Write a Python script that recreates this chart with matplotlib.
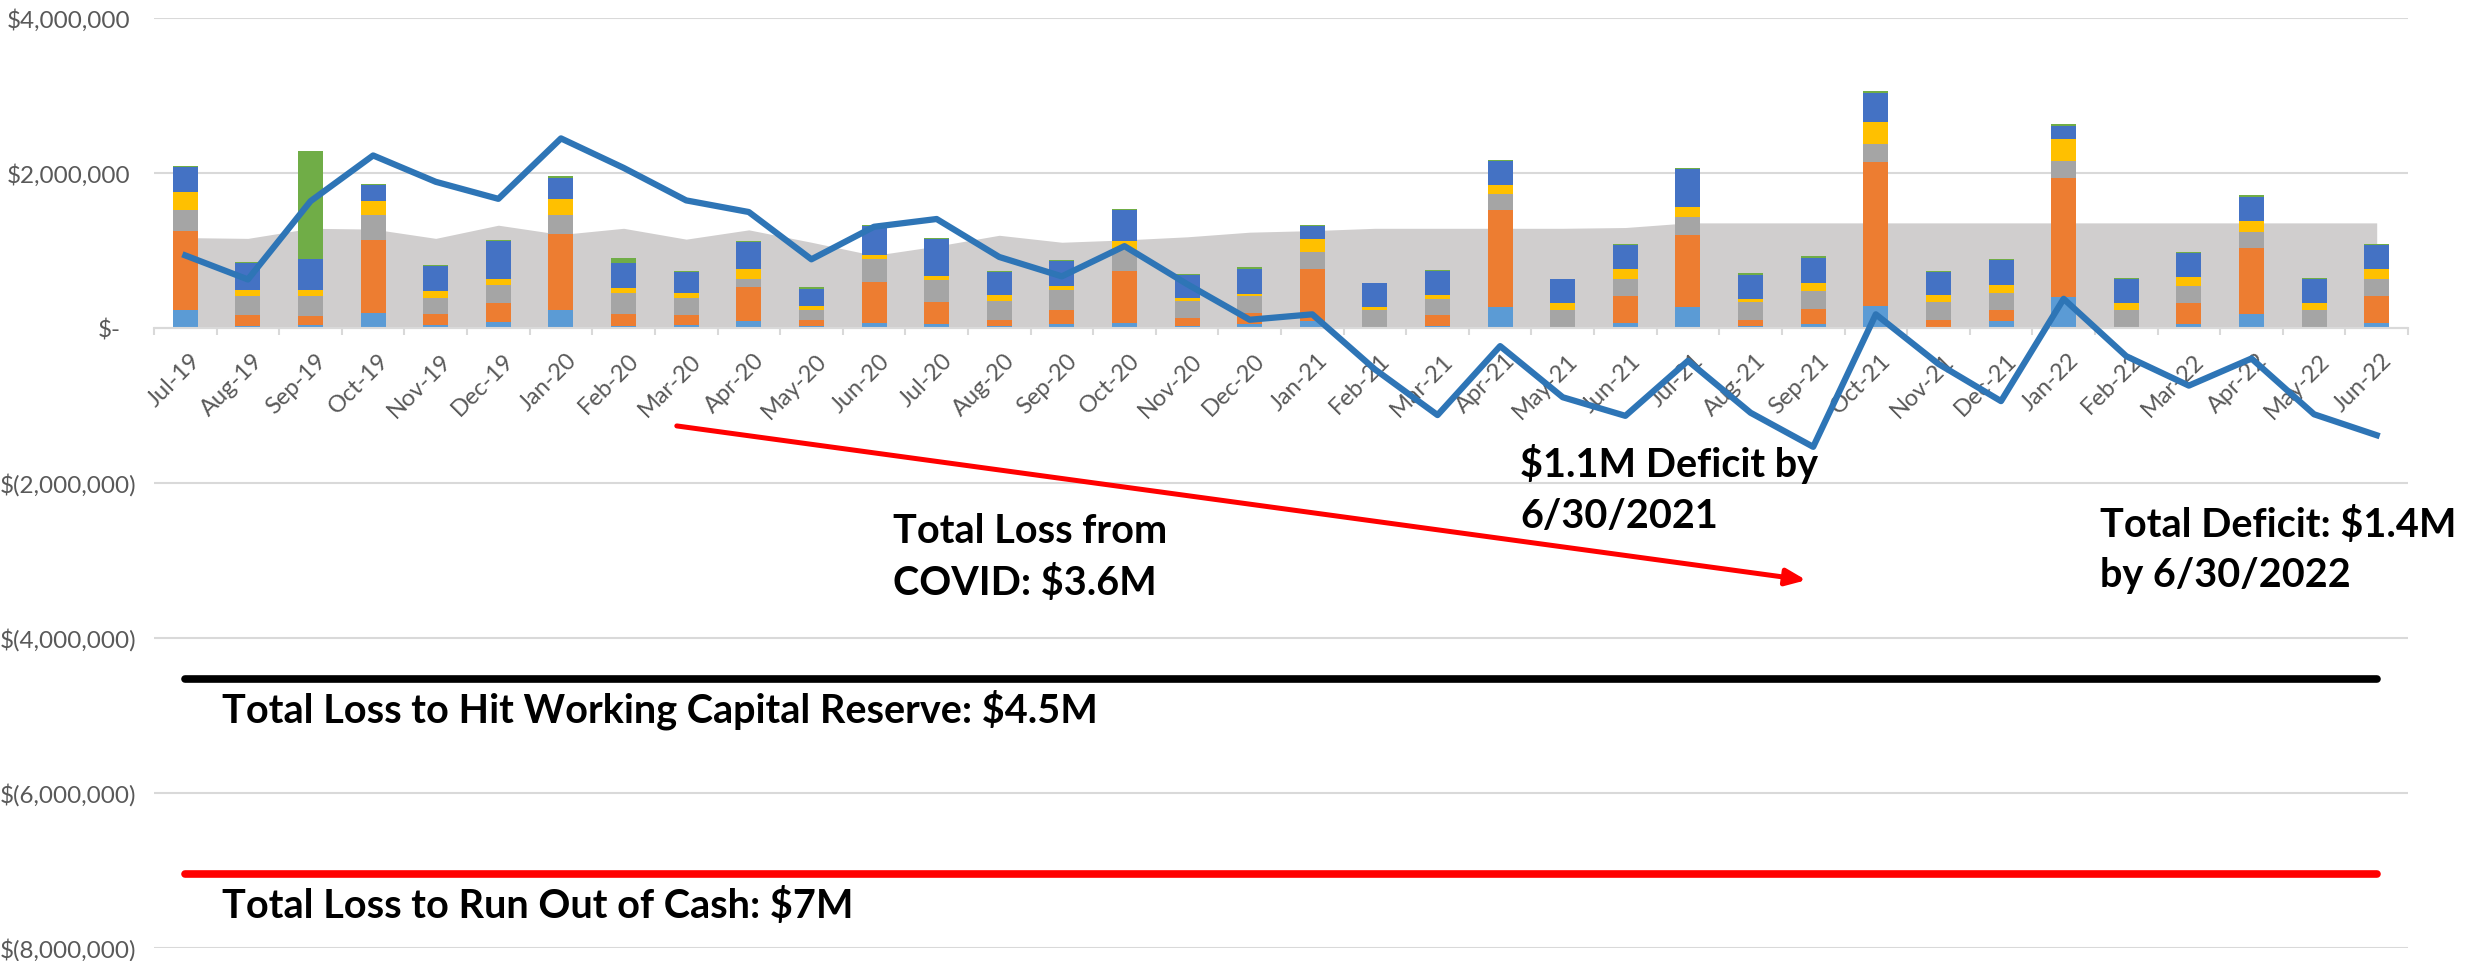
import numpy as np
import matplotlib
matplotlib.use('Agg')
import matplotlib.pyplot as plt
from matplotlib import font_manager
from matplotlib.transforms import ScaledTranslation

# monthly values in $M
months = ['Jul-19', 'Aug-19', 'Sep-19', 'Oct-19', 'Nov-19', 'Dec-19', 'Jan-20', 'Feb-20', 'Mar-20',
          'Apr-20', 'May-20', 'Jun-20', 'Jul-20', 'Aug-20', 'Sep-20', 'Oct-20', 'Nov-20', 'Dec-20',
          'Jan-21', 'Feb-21', 'Mar-21', 'Apr-21', 'May-21', 'Jun-21', 'Jul-21', 'Aug-21', 'Sep-21',
          'Oct-21', 'Nov-21', 'Dec-21', 'Jan-22', 'Feb-22', 'Mar-22', 'Apr-22', 'May-22', 'Jun-22']

light_blue = [.23, .02, .03, .19, .03, .07, .22, .02, .03, .08, .02, .06, .05, .02, .04, .06, .02, .04,
              .09, 0, .02, .26, 0, .06, .27, .02, .04, .28, 0, .08, .40, 0, .04, .17, 0, .06]
orange = [1.02, .14, .12, .94, .15, .24, .99, .16, .13, .44, .08, .53, .28, .08, .18, .67, .10, .15,
          .67, 0, .14, 1.25, 0, .35, .93, .08, .20, 1.86, .10, .14, 1.53, 0, .27, .85, 0, .35]
gray = [.27, .25, .26, .32, .20, .24, .24, .27, .22, .10, .13, .30, .28, .24, .26, .27, .22, .22,
        .21, .22, .21, .21, .22, .22, .23, .23, .23, .23, .23, .23, .22, .22, .23, .21, .22, .22]
yellow = [.23, .08, .08, .18, .09, .08, .21, .06, .06, .14, .05, .05, .05, .08, .05, .12, .04, .02,
          .17, .04, .05, .12, .09, .13, .13, .04, .10, .28, .09, .10, .28, .09, .11, .15, .09, .13]
blue = [.32, .34, .40, .21, .33, .48, .27, .32, .28, .34, .22, .37, .48, .30, .33, .39, .30, .32,
        .17, .31, .31, .31, .31, .31, .48, .31, .33, .38, .29, .32, .17, .31, .31, .31, .31, .31]
green = [.02, .02, 1.39, .01, .01, .02, .02, .07, .01, .02, .02, .01, .01, .01, .01, .02, .01, .03,
         .01, .01, .01, .01, .01, .01, .02, .02, .02, .02, .02, .02, .02, .02, .02, .02, .02, .01]

net = [.93, .62, 1.63, 2.22, 1.88, 1.66, 2.44, 2.06, 1.64, 1.49, .88, 1.30, 1.40, .91, .66, 1.05, .56, .10,
       .17, -.54, -1.13, -.24, -.90, -1.14, -.43, -1.10, -1.54, .17, -.47, -.95, .37, -.37, -.75, -.40, -1.12, -1.39]
area = [1.16, 1.15, 1.28, 1.27, 1.15, 1.32, 1.20, 1.28, 1.14, 1.26, 1.10, .93, 1.05, 1.19, 1.10, 1.13, 1.17, 1.23,
        1.25, 1.28, 1.28, 1.28, 1.28, 1.29, 1.35, 1.35, 1.35, 1.35, 1.35, 1.35, 1.35, 1.35, 1.35, 1.35, 1.35, 1.35]

reserve_level = -4.54   # working capital reserve
cash_level = -7.05      # run out of cash
covid_arrow = [(7.85, -1.27), (25.89, -3.26)]

yticks = [4, 2, 0, -2, -4, -6, -8]
ylabels = ['$4,000,000', '$2,000,000', '$-', '$(2,000,000)', '$(4,000,000)', '$(6,000,000)', '$(8,000,000)']

names = {f.name for f in font_manager.fontManager.ttflist}
fam = 'Lato' if 'Lato' in names else 'Liberation Sans'
plt.rcParams['font.family'] = [fam, 'DejaVu Sans']

M = 1e6
x = np.arange(len(months))
series = [light_blue, orange, gray, yellow, blue, green]
colors = ['#5B9BD5', '#ED7D31', '#A5A5A5', '#FFC000', '#4472C4', '#70AD47']

fig = plt.figure(figsize=(24.66, 9.62), dpi=100)
ax = fig.add_axes([154 / 2466, 13.5 / 962, (2408 - 154) / 2466, (948.5 - 18.5) / 962])

ax.fill_between(x, 0, np.array(area) * M, color='#D0CECE', lw=0, zorder=1)

bottom = np.zeros(len(months))
for vals, c in zip(series, colors):
    v = np.array(vals) * M
    ax.bar(x, v, 0.4, bottom=bottom, color=c, zorder=2)
    bottom += v

ax.plot(x, np.array(net) * M, color='#2E75B6', lw=4.5, zorder=4)

ax.plot([x[0], x[-1]], [reserve_level * M] * 2, color='black', lw=5.5, solid_capstyle='round', zorder=5)
ax.plot([x[0], x[-1]], [cash_level * M] * 2, color='#FF0000', lw=5.5, solid_capstyle='round', zorder=5)
(x0, y0), (x1, y1) = covid_arrow
ax.annotate('', xy=(x1, y1 * M), xytext=(x0, y0 * M),
            arrowprops=dict(arrowstyle='-|>,head_length=0.6,head_width=0.25', color='#FF0000',
                            lw=3.6, mutation_scale=20, shrinkA=0, shrinkB=0), zorder=5)

ax.set_xlim(-0.5, len(months) - 0.5)
ax.set_ylim(-8 * M, 4 * M)
ax.set_axisbelow(True)
ax.yaxis.grid(True, color='#D9D9D9', lw=1.5)
for s in ['top', 'right', 'left']:
    ax.spines[s].set_visible(False)
ax.spines['bottom'].set_position(('data', 0))
ax.spines['bottom'].set_color('#D9D9D9')
ax.spines['bottom'].set_linewidth(1.5)
ax.spines['bottom'].set_zorder(3)

ax.set_yticks(np.array(yticks) * M, ylabels)
ax.tick_params(axis='y', length=0, pad=17, labelsize=17.5, labelcolor='#595959')
for lbl, t in zip(ax.get_yticklabels(), yticks):
    dx = 0 if t > 0 else (6 if t < 0 else -10)
    lbl.set_transform(lbl.get_transform() + ScaledTranslation(dx / 100, 0, fig.dpi_scale_trans))

ax.set_xticks(x, months)
ax.set_xticks(np.arange(-0.5, len(months)), minor=True)
ax.tick_params(axis='x', which='major', length=0, pad=21, labelsize=17, labelcolor='#595959')
ax.tick_params(axis='x', which='minor', length=5, width=1.5, color='#D9D9D9', direction='out')
for lbl in ax.get_xticklabels():
    lbl.set_rotation(45)
    lbl.set_ha('right')
    lbl.set_va('center')
    lbl.set_rotation_mode('anchor')
    lbl.set_transform(lbl.get_transform() + ScaledTranslation(12 / 100, 0, fig.dpi_scale_trans))

notes = [(11.30, -2.77, 'Total Loss from'), (11.30, -3.44, 'COVID: $3.6M'),
         (21.32, -1.92, '$1.1M Deficit by'), (21.32, -2.58, '6/30/2021'),
         (30.58, -2.69, 'Total Deficit: $1.4M'), (30.58, -3.34, 'by 6/30/2022'),
         (0.59, -5.09, 'Total Loss to Hit Working Capital Reserve: $4.5M'),
         (0.59, -7.61, 'Total Loss to Run Out of Cash: $7M')]
for nx, ny, s in notes:
    ax.text(nx, ny * M, s, fontsize=28.5, fontweight='bold', va='baseline', ha='left', zorder=6)

fig.savefig('out.png', dpi=100)
